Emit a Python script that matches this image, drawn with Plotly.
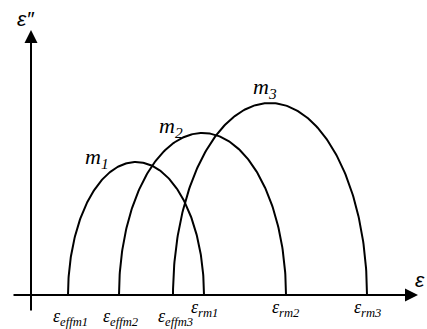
import numpy as np
import plotly.graph_objects as go

# Data (origin of the axes at 0,0; arbitrary units)
series = ["m<sub>1</sub>", "m<sub>2</sub>", "m<sub>3</sub>"]
eps_eff = [37, 88, 142]        # low-frequency intercepts
eps_r = [173, 255, 336]        # high-frequency intercepts
peak = [133, 162, 192]         # peak heights of eps''
eff_labels = ["ε<sub>effm1</sub>", "ε<sub>effm2</sub>", "ε<sub>effm3</sub>"]
r_labels = ["ε<sub>rm1</sub>", "ε<sub>rm2</sub>", "ε<sub>rm3</sub>"]

# label placement offsets (layout only)
lab_dx = [-39, -32, -5]
lab_dy = [4, 6, 15]

fig = go.Figure()
t = np.linspace(0, np.pi, 200)
for s, e0, e1, h in zip(series, eps_eff, eps_r, peak):
    c = (e0 + e1) / 2
    a = (e1 - e0) / 2
    fig.add_trace(go.Scatter(x=c + a * np.cos(t), y=h * np.sin(t), mode="lines",
                             line=dict(color="black", width=2), hoverinfo="skip",
                             showlegend=False))

serif = "Liberation Serif"
for s, e0, e1, h, dx, dy in zip(series, eps_eff, eps_r, peak, lab_dx, lab_dy):
    c = (e0 + e1) / 2
    fig.add_annotation(x=c + dx, y=h + dy, text="<i>" + s + "</i>", showarrow=False,
                       font=dict(family=serif, size=22, color="black"),
                       xanchor="center", yanchor="middle")
for e0, lab in zip(eps_eff, eff_labels):
    fig.add_annotation(x=e0 + 2, y=-22, text="<i>" + lab + "</i>", showarrow=False,
                       font=dict(family=serif, size=18, color="black"),
                       xanchor="center", yanchor="middle")
for e1, lab in zip(eps_r, r_labels):
    fig.add_annotation(x=e1, y=-13, text="<i>" + lab + "</i>", showarrow=False,
                       font=dict(family=serif, size=18, color="black"),
                       xanchor="center", yanchor="middle")

# axes with arrows
fig.add_annotation(x=387, y=0, ax=-19, ay=0, xref="x", yref="y", axref="x", ayref="y",
                   showarrow=True, arrowhead=2, arrowsize=1.3, arrowwidth=2, arrowcolor="black", text="")
fig.add_annotation(x=0, y=265, ax=0, ay=-17, xref="x", yref="y", axref="x", ayref="y",
                   showarrow=True, arrowhead=2, arrowsize=1.3, arrowwidth=2, arrowcolor="black", text="")
fig.add_annotation(x=-5, y=277, text="<i>ε″</i>", showarrow=False,
                   font=dict(family="Liberation Sans", size=21, color="black"),
                   xanchor="center", yanchor="middle")
fig.add_annotation(x=389, y=16, text="<i>ε</i>", showarrow=False,
                   font=dict(family="Liberation Sans", size=21, color="black"),
                   xanchor="center", yanchor="middle")

fig.update_layout(width=427, height=329, margin=dict(l=0, r=0, t=0, b=0),
                  paper_bgcolor="white", plot_bgcolor="white",
                  xaxis=dict(range=[-31, 396], visible=False, fixedrange=True),
                  yaxis=dict(range=[-34, 295], visible=False, fixedrange=True),
                  showlegend=False)
fig.write_html("out.html", config={"displayModeBar": False},
               post_script="document.body.style.margin='0';document.body.style.overflow='hidden';")
